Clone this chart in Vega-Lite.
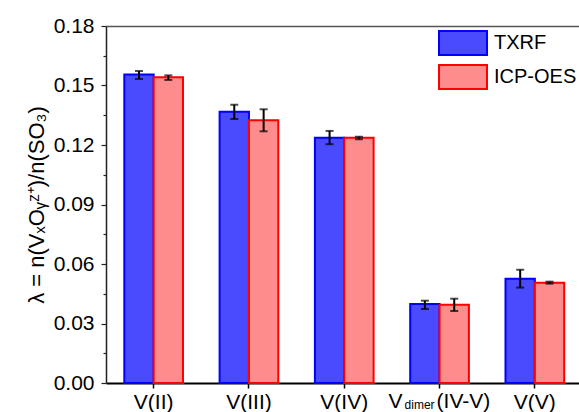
{
  "$schema": "https://vega.github.io/schema/vega-lite/v6.json",
  "width": 473,
  "height": 357,
  "autosize": {"type": "none"},
  "padding": {"left": 106, "top": 26, "right": 0, "bottom": 29},
  "background": "white",
  "config": {
    "view": {"stroke": null},
    "font": "Liberation Sans",
    "axis": {"labelFont": "Liberation Sans", "titleFont": "Liberation Sans", "labelColor": "black", "titleColor": "black", "grid": false}
  },
  "data": {
    "values": [
      {"cat": "V(II)", "method": "TXRF", "value": 0.1555, "lo": 0.1533, "hi": 0.1573},
      {"cat": "V(II)", "method": "ICP-OES", "value": 0.1541, "lo": 0.1528, "hi": 0.1551},
      {"cat": "V(III)", "method": "TXRF", "value": 0.1368, "lo": 0.1331, "hi": 0.1403},
      {"cat": "V(III)", "method": "ICP-OES", "value": 0.1325, "lo": 0.1269, "hi": 0.138},
      {"cat": "V(IV)", "method": "TXRF", "value": 0.1237, "lo": 0.1204, "hi": 0.1271},
      {"cat": "V(IV)", "method": "ICP-OES", "value": 0.1237, "lo": 0.1229, "hi": 0.1242},
      {"cat": "Vdimer(IV-V)", "method": "TXRF", "value": 0.0398, "lo": 0.0373, "hi": 0.0415},
      {"cat": "Vdimer(IV-V)", "method": "ICP-OES", "value": 0.0395, "lo": 0.0363, "hi": 0.0425},
      {"cat": "V(V)", "method": "TXRF", "value": 0.0526, "lo": 0.0481, "hi": 0.0571},
      {"cat": "V(V)", "method": "ICP-OES", "value": 0.0506, "lo": 0.0501, "hi": 0.0511}
    ]
  },
  "resolve": {"axis": {"x": "independent", "y": "independent"}},
  "layer": [
    {
      "mark": {"type": "bar", "strokeWidth": 2},
      "encoding": {
        "x": {
          "field": "cat", "type": "nominal",
          "sort": ["V(II)", "V(III)", "V(IV)", "Vdimer(IV-V)", "V(V)"],
          "scale": {"paddingInner": 0.384, "paddingOuter": 0.1737, "align": 0.553},
          "axis": {
            "title": null, "labelAngle": 0, "labelFontSize": 21, "labelBaseline": "alphabetic",
            "labelPadding": 20, "tickSize": 5, "tickColor": "black", "tickWidth": 1.5,
            "domainColor": "black", "domainWidth": 2,
            "labelExpr": "datum.value == 'Vdimer(IV-V)' ? '' : datum.value"
          }
        },
        "xOffset": {"field": "method", "type": "nominal", "sort": ["TXRF", "ICP-OES"]},
        "y": {
          "field": "value", "type": "quantitative", "stack": null,
          "scale": {"domain": [0, 0.18], "nice": false},
          "axis": {
            "title": "λ = n(VₓOᵧᶻ⁺)/n(SO₃)",
            "titleFontSize": 22, "titleFontWeight": "normal", "titlePadding": 5,
            "values": [0, 0.015, 0.03, 0.045, 0.06, 0.075, 0.09, 0.105, 0.12, 0.135, 0.15, 0.165, 0.18],
            "labelExpr": "round(datum.value*1000) % 30 == 0 ? format(datum.value, '.2f') : ''",
            "labelFontSize": 21, "labelPadding": 7,
            "tickSize": {"condition": {"test": "round(datum.value*1000) % 30 == 0", "value": 5}, "value": 3},
            "tickColor": "#222", "tickWidth": 1.2,
            "domainColor": "#222", "domainWidth": 1.5
          }
        },
        "fill": {
          "field": "method", "type": "nominal", "sort": ["TXRF", "ICP-OES"],
          "scale": {"domain": ["TXRF", "ICP-OES"], "range": ["#4a4aff", "#ff8c8c"]},
          "legend": {
            "title": null, "orient": "none", "legendX": 344, "legendY": 4,
            "symbolType": "M-2,-1H2V1H-2Z", "symbolSize": 576, "symbolStrokeWidth": 2,
            "labelFontSize": 20, "labelFont": "Liberation Sans", "labelColor": "black",
            "labelOffset": 18, "rowPadding": 2, "padding": 0
          }
        },
        "stroke": {
          "field": "method", "type": "nominal", "sort": ["TXRF", "ICP-OES"],
          "scale": {"domain": ["TXRF", "ICP-OES"], "range": ["#0000ff", "#ff0000"]},
          "legend": {
            "title": null, "orient": "none", "legendX": 344, "legendY": 4,
            "symbolType": "M-2,-1H2V1H-2Z", "symbolSize": 576, "symbolStrokeWidth": 2,
            "labelFontSize": 20, "labelFont": "Liberation Sans", "labelColor": "black",
            "labelOffset": 18, "rowPadding": 2, "padding": 0
          }
        }
      }
    },
    {
      "mark": {"type": "rule", "color": "black", "strokeWidth": 2},
      "encoding": {
        "x": {
          "field": "cat", "type": "nominal",
          "sort": ["V(II)", "V(III)", "V(IV)", "Vdimer(IV-V)", "V(V)"],
          "axis": {"orient": "top", "title": null, "labels": false, "ticks": false, "domainColor": "#555", "domainWidth": 1.5}
        },
        "xOffset": {"field": "method", "type": "nominal", "sort": ["TXRF", "ICP-OES"]},
        "y": {"field": "lo", "type": "quantitative", "axis": null},
        "y2": {"field": "hi"}
      }
    },
    {
      "mark": {"type": "tick", "color": "black", "thickness": 2, "size": 8, "orient": "horizontal"},
      "encoding": {
        "x": {"field": "cat", "type": "nominal", "sort": ["V(II)", "V(III)", "V(IV)", "Vdimer(IV-V)", "V(V)"], "axis": null},
        "xOffset": {"field": "method", "type": "nominal", "sort": ["TXRF", "ICP-OES"]},
        "y": {"field": "lo", "type": "quantitative", "axis": null}
      }
    },
    {
      "mark": {"type": "tick", "color": "black", "thickness": 2, "size": 8, "orient": "horizontal"},
      "encoding": {
        "x": {"field": "cat", "type": "nominal", "sort": ["V(II)", "V(III)", "V(IV)", "Vdimer(IV-V)", "V(V)"], "axis": null},
        "xOffset": {"field": "method", "type": "nominal", "sort": ["TXRF", "ICP-OES"]},
        "y": {"field": "hi", "type": "quantitative", "axis": null}
      }
    },
    {
      "transform": [{"filter": "datum.cat == 'Vdimer(IV-V)' && datum.method == 'TXRF'"}],
      "mark": {"type": "text", "text": "V", "align": "right", "baseline": "alphabetic", "dx": -37, "dy": 25, "fontSize": 21, "font": "Liberation Sans", "color": "black"},
      "encoding": {
        "x": {"field": "cat", "type": "nominal", "sort": ["V(II)", "V(III)", "V(IV)", "Vdimer(IV-V)", "V(V)"], "axis": null},
        "y": {"datum": 0, "type": "quantitative", "axis": null}
      }
    },
    {
      "transform": [{"filter": "datum.cat == 'Vdimer(IV-V)' && datum.method == 'TXRF'"}],
      "mark": {"type": "text", "text": "dimer", "align": "left", "baseline": "alphabetic", "dx": -35, "dy": 26, "fontSize": 12, "font": "Liberation Sans", "color": "black"},
      "encoding": {
        "x": {"field": "cat", "type": "nominal", "sort": ["V(II)", "V(III)", "V(IV)", "Vdimer(IV-V)", "V(V)"], "axis": null},
        "y": {"datum": 0, "type": "quantitative", "axis": null}
      }
    },
    {
      "transform": [{"filter": "datum.cat == 'Vdimer(IV-V)' && datum.method == 'TXRF'"}],
      "mark": {"type": "text", "text": "(IV-V)", "align": "left", "baseline": "alphabetic", "dx": -3, "dy": 25, "fontSize": 21, "font": "Liberation Sans", "color": "black"},
      "encoding": {
        "x": {"field": "cat", "type": "nominal", "sort": ["V(II)", "V(III)", "V(IV)", "Vdimer(IV-V)", "V(V)"], "axis": null},
        "y": {"datum": 0, "type": "quantitative", "axis": null}
      }
    }
  ]
}
